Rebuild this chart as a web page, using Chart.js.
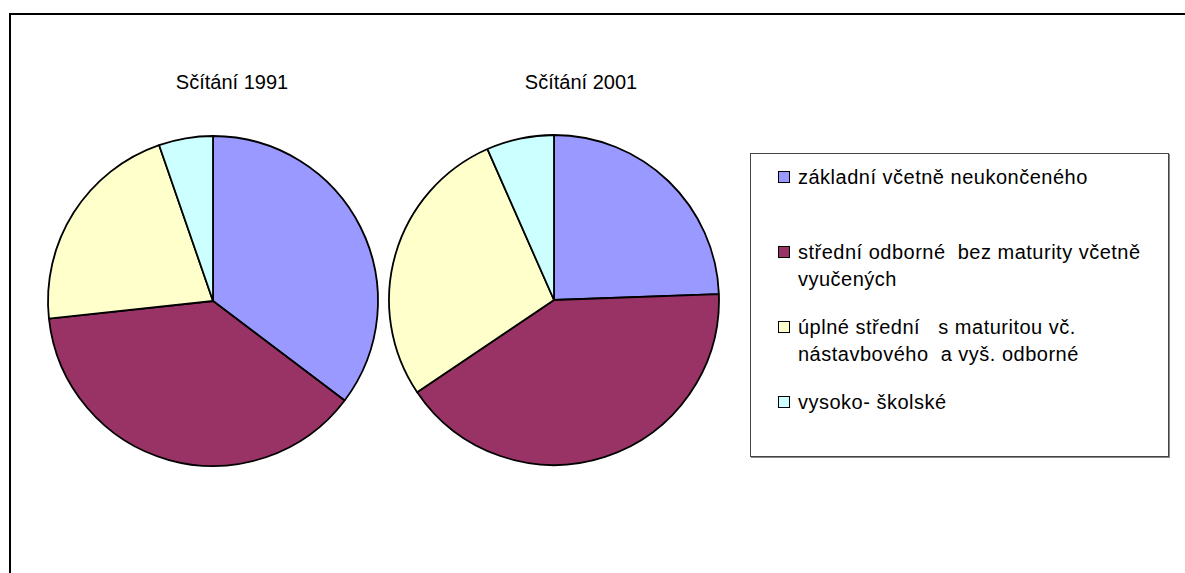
<!DOCTYPE html>
<html>
<head>
<meta charset="utf-8">
<script src="https://cdn.jsdelivr.net/npm/chart.js@4/dist/chart.umd.min.js"></script>
<style>
  html, body { margin: 0; padding: 0; background: #fff; }
  body { width: 1185px; height: 573px; overflow: hidden; position: relative;
         font-family: "Liberation Sans", Arial, sans-serif; color: #000; }
  #frame { position: absolute; left: 9px; top: 13px; width: 1300px; height: 700px;
           border-top: 2px solid #000; border-left: 2px solid #000; }
  .ptitle { position: absolute; top: 70px; width: 240px; text-align: center;
            font-size: 20px; line-height: 24px; white-space: nowrap; }
  canvas { position: absolute; }
  #legend { position: absolute; left: 750px; top: 153px; width: 417px; height: 302px;
            border: 1px solid #444; box-shadow: 1px 1px 0 #888; background: #fff; }
  .item { position: absolute; left: 0; width: 400px; }
  .sw { position: absolute; left: 27px; top: 7px; width: 10px; height: 10px; border: 1px solid #000; }
  .txt { position: absolute; left: 47px; top: 0; width: 360px; font-size: 20px; line-height: 26.7px;
         letter-spacing: 0.5px; white-space: pre-wrap; }
</style>
</head>
<body>
<div id="frame"></div>
<div class="ptitle" id="t0" style="left:112px"></div>
<div class="ptitle" id="t1" style="left:461px"></div>
<canvas id="c0" width="340" height="340" style="left:43px;top:131px"></canvas>
<canvas id="c1" width="340" height="340" style="left:384px;top:130px"></canvas>
<div id="legend"></div>
<script>
const categories = [
  "základní včetně neukončeného",
  "střední odborné  bez maturity včetně vyučených",
  "úplné střední   s maturitou vč. nástavbového  a vyš. odborné",
  "vysoko- školské"
];
const chartTitles = ["Sčítání 1991", "Sčítání 2001"];
const census1991 = [35.3, 38.0, 21.4, 5.3];
const census2001 = [24.4, 41.1, 27.8, 6.6];
const sliceColors = ["#9999FF", "#993366", "#FFFFCC", "#CCFFFF"];

const seriesList = [census1991, census2001];

seriesList.forEach((vals, i) => {
  document.getElementById("t" + i).textContent = chartTitles[i];
  new Chart(document.getElementById("c" + i), {
    type: "pie",
    data: {
      labels: categories,
      datasets: [{
        data: vals,
        backgroundColor: sliceColors,
        borderColor: "#000",
        borderWidth: 1.8,
        radius: 165
      }]
    },
    options: {
      responsive: false,
      animation: false,
      events: [],
      layout: { padding: 0 },
      plugins: {
        legend: { display: false },
        title: { display: false },
        tooltip: { enabled: false }
      }
    }
  });
});

const legend = document.getElementById("legend");
categories.forEach((c, i) => {
  const it = document.createElement("div");
  it.className = "item";
  it.style.top = (10 + i * 75) + "px";
  const sw = document.createElement("div");
  sw.className = "sw";
  sw.style.background = sliceColors[i];
  const tx = document.createElement("div");
  tx.className = "txt";
  tx.textContent = c;
  it.appendChild(sw);
  it.appendChild(tx);
  legend.appendChild(it);
});
</script>
</body>
</html>
